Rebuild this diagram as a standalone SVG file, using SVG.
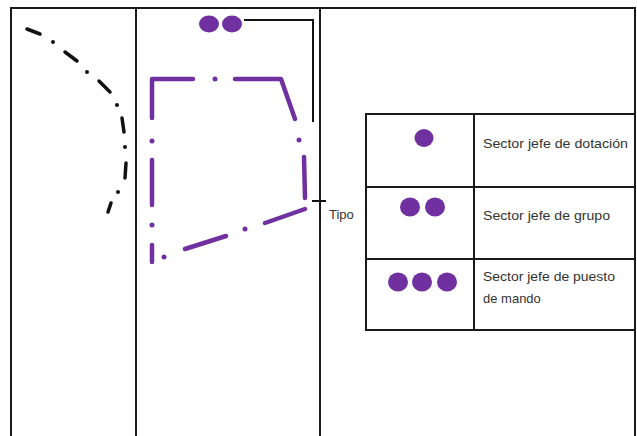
<svg xmlns="http://www.w3.org/2000/svg" width="637" height="436" viewBox="0 0 637 436">
<style>
.frame{fill:none;stroke:#1a1a1a;stroke-width:2}
.pur{fill:none;stroke:#7030a0;stroke-width:4.5;stroke-linecap:round;stroke-linejoin:round}
.blk{fill:none;stroke:#111;stroke-width:3.5;stroke-linecap:round}
.dot{fill:#7030a0}
.lbl{font-family:"Liberation Sans",Arial,sans-serif;font-size:13px;fill:#333}
</style>
<rect width="637" height="436" fill="#fff"/>
<g id="frame">
<path class="frame" d="M11,437 V8 H635 V437 M136,8 V437 M320,8 V437"/>
</g>
<g id="boundary-left">
<path class="blk" d="M27,29 L40,34 M65,52 L77,61 M99,81 L110,92 M122,118 L124,132 M126,163 L125,178 M111,203 L108,212"/>
<circle cx="53" cy="42" r="2" fill="#111"/>
<circle cx="87" cy="72" r="2" fill="#111"/>
<circle cx="117" cy="105" r="2" fill="#111"/>
<circle cx="125" cy="147" r="2" fill="#111"/>
<circle cx="118" cy="192" r="2" fill="#111"/>
</g>
<g id="sector">
<path class="pur" d="M152,118 V79 H193 M235,79 H281 L295,119 M304,157 L305,198 M305,209 L265,223 M226,236 L185,249 M152,245 V262 M152,160 V205"/>
<circle class="dot" cx="215" cy="79" r="2.5"/>
<circle class="dot" cx="299" cy="140" r="2.5"/>
<circle class="dot" cx="245" cy="229" r="2.5"/>
<circle class="dot" cx="164" cy="257" r="2.5"/>
<circle class="dot" cx="152" cy="225" r="2.5"/>
<circle class="dot" cx="152" cy="141" r="2.5"/>
</g>
<g id="sector-marker">
<ellipse class="dot" cx="209" cy="24" rx="10" ry="8.5"/>
<ellipse class="dot" cx="232" cy="24" rx="10" ry="8.5"/>
</g>
<g id="connectors">
<path fill="none" stroke="#111" stroke-width="2" d="M244,20 H313 V122"/>
<path fill="none" stroke="#111" stroke-width="2" d="M312,201 H326"/>
</g>
<g id="tipo">
<text class="lbl" x="329" y="219">Tipo</text>
</g>
<g id="legend">
<path class="frame" d="M366,114 H635 V330 H366 Z M474,114 V330 M366,187 H635 M366,259 H635"/>
<g id="row1">
<ellipse class="dot" cx="424" cy="138" rx="9.5" ry="9"/>
<text class="lbl" x="483" y="148" textLength="145" lengthAdjust="spacingAndGlyphs">Sector jefe de dotación</text>
</g>
<g id="row2">
<ellipse class="dot" cx="410" cy="207" rx="10" ry="9.5"/>
<ellipse class="dot" cx="435" cy="207" rx="10" ry="9.5"/>
<text class="lbl" x="483" y="220" textLength="127" lengthAdjust="spacingAndGlyphs">Sector jefe de grupo</text>
</g>
<g id="row3">
<ellipse class="dot" cx="398" cy="282" rx="10" ry="9.5"/>
<ellipse class="dot" cx="422" cy="282" rx="10" ry="9.5"/>
<ellipse class="dot" cx="447" cy="282" rx="10" ry="9.5"/>
<text class="lbl" x="483" y="281" textLength="132" lengthAdjust="spacingAndGlyphs">Sector jefe de puesto</text>
<text class="lbl" x="483" y="303">de mando</text>
</g>
</g>
</svg>
